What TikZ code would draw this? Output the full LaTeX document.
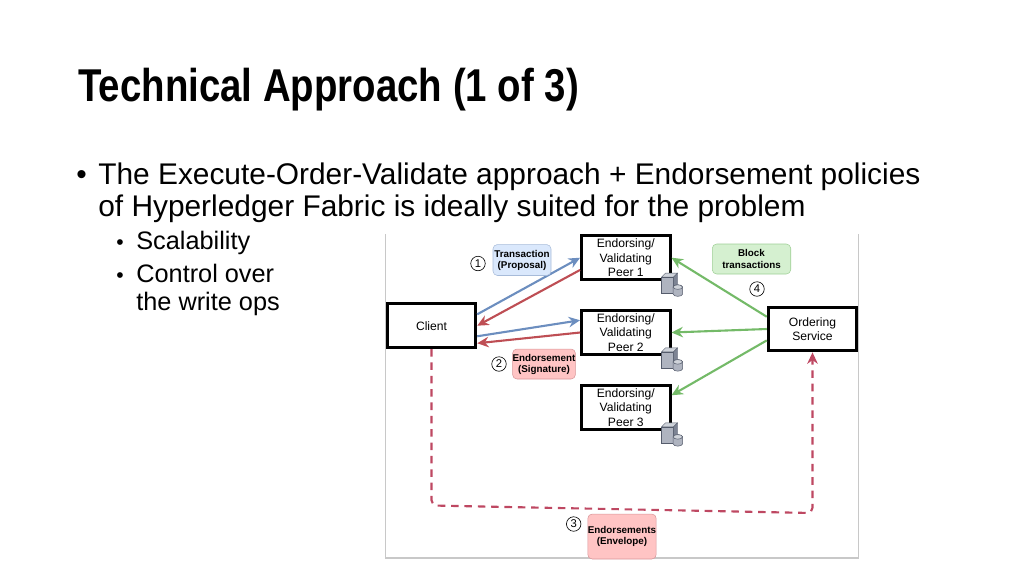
\documentclass[tikz,border=0pt]{standalone}
\usepackage{fontspec}
\setmainfont{Liberation Sans}
\newfontfamily\titlefont[FakeStretch=0.834]{Liberation Sans}
\usepackage{xcolor}
\definecolor{colorBlue}{RGB}{108, 142, 191}
\definecolor{colorRed}{RGB}{190, 78, 84}
\definecolor{colorDash}{RGB}{190, 72, 98}
\definecolor{colorGreen}{RGB}{116, 186, 104}
\definecolor{colorFrame}{RGB}{200, 200, 200}
\definecolor{fillBlue}{RGB}{218, 232, 252}
\definecolor{fillRed}{RGB}{255, 196, 196}
\definecolor{fillGreen}{RGB}{213, 240, 208}
\definecolor{serverTop}{RGB}{207, 211, 218}
\definecolor{serverFront}{RGB}{175, 180, 192}
\definecolor{serverSide}{RGB}{125, 132, 148}
\definecolor{serverLine}{RGB}{85, 92, 108}
\usetikzlibrary{arrows.meta}
\tikzset{
	box/.style={draw, line width=1.7pt, fill=white, minimum width=1.77cm, minimum height=.875cm, inner sep=0pt, align=center, font=\fontsize{6.9}{8.1}\selectfont},
	badge/.style={rounded corners=2.5pt, line width=.3pt, inner sep=0pt, align=center, font=\fontsize{5.6}{6.3}\selectfont\bfseries},
	num/.style={draw, circle, line width=.35pt, minimum size=.29cm, inner sep=0pt, font=\fontsize{6.4}{7}\selectfont},
	flow/.style={line width=1.2pt, -{Stealth[length=6.5pt, width=6pt]}},
	bodytext/.style={anchor=base west, inner sep=0pt, font=\fontsize{17}{20}\selectfont},
	subtext/.style={anchor=base west, inner sep=0pt, font=\fontsize{14.4}{16}\selectfont},
	serverpic/.pic={
		\draw[line width=.2pt, draw=serverLine, fill=serverTop] (-10,-4) -- (-6,-8) -- (6,-8) -- (2,-4) -- cycle;
		\draw[line width=.2pt, draw=serverLine, fill=serverFront] (-10,-4) rectangle (2,12);
		\draw[line width=.2pt, draw=serverLine, fill=serverSide] (2,-4) -- (6,-8) -- (6,8) -- (2,12) -- cycle;
		\draw[line width=.3pt, draw=serverLine, fill=serverFront] (1.5,6) -- (1.5,13) .. controls (2,16) and (10.5,16) .. (11,13) -- (11,6) .. controls (10.5,3) and (2,3) .. (1.5,6) -- cycle;
		\draw[line width=.3pt, draw=serverLine, fill=serverTop] (1.5,6) .. controls (2,9) and (10.5,9) .. (11,6) .. controls (10.5,3) and (2,3) .. (1.5,6) -- cycle;
	}
}
\begin{document}
\begin{tikzpicture}[x=0.02cm, y=-0.02cm]
	\useasboundingbox (0,0) rectangle (1024,576);
	% slide text
	\node[anchor=base west, inner sep=0pt, font=\titlefont\fontsize{26.2}{30}\selectfont\bfseries] (title) at (78,101) {Technical Approach (1 of 3)};
	\node[bodytext] (bulletmain) at (76,184) {•};
	\node[bodytext] (lineone) at (98,184) {The Execute-Order-Validate approach + Endorsement policies};
	\node[bodytext] (linetwo) at (98,216) {of Hyperledger Fabric is ideally suited for the problem};
	\node[subtext, font=\fontsize{12}{14}\selectfont] (bulletone) at (116,249) {•};
	\node[subtext] (scalability) at (136,249) {Scalability};
	\node[subtext, font=\fontsize{12}{14}\selectfont] (bullettwo) at (116,282) {•};
	\node[subtext] (control) at (136,282) {Control over};
	\node[subtext] (writeops) at (136,310) {the write ops};

	% frame of the figure
	\draw[colorFrame, line width=.6pt] (385.5,234) -- (385.5,558) -- (858.5,558) -- (858.5,234);

	\node[box] (client) at (431.5,325.7) {Client};
	\node[box] (peerone) at (625.8,257.7) {Endorsing/\\Validating\\Peer 1};
	\node[box] (peertwo) at (625.8,332.5) {Endorsing/\\Validating\\Peer 2};
	\node[box] (peerthree) at (625.8,407.5) {Endorsing/\\Validating\\Peer 3};
	\node[box] (order) at (812.5,329) {Ordering\\Service};

	\pic at (peerone.south east) {serverpic};
	\pic at (peertwo.south east) {serverpic};
	\pic at (peerthree.south east) {serverpic};

	\draw[flow, colorBlue] (client.14.5) -- (peerone.180);
	\draw[flow, colorRed] (peerone.195) -- (client.0);
	\draw[flow, colorBlue] (client.-13) -- (peertwo.165);
	\draw[flow, colorRed] (peertwo.180) -- (client.-21);
	\draw[flow, colorGreen] (order.165) -- (peerone.0);
	\draw[flow, colorGreen] (order.180) -- (peertwo.0);
	\draw[flow, colorGreen] (order.194) -- (peerthree.15);

	\coordinate (dashleft) at (431.5,505.5);
	\coordinate (dashright) at (812.5,513);
	\draw[line width=1.2pt, colorDash, dash pattern=on 4.3pt off 3.3pt, rounded corners=3pt, -{Stealth[length=6.5pt, width=6pt]}] (client.south) -- (dashleft) -- (dashright) -- (order.south);

	\node[badge, draw=colorBlue!60, fill=fillBlue, minimum width=1.16cm, minimum height=.62cm] (transaction) at (522,260) {Transaction\\(Proposal)};
	\node[badge, draw=colorRed!60, fill=fillRed, minimum width=1.19cm, minimum height=.6cm] (endorsement) at (544,364) {Endorsement\\(Signature)};
	\node[badge, draw=colorGreen!70, fill=fillGreen, minimum width=1.57cm, minimum height=.6cm] (block) at (751.5,259) {Block\\transactions};
	\node[badge, draw=colorRed!60, fill=fillRed, minimum width=1.36cm, minimum height=.9cm] (envelope) at (622,536.5) {Endorsements\\(Envelope)};

	\node[num] (numone) at (478,263.5) {1};
	\node[num] (numtwo) at (499,364) {2};
	\node[num] (numthree) at (573.7,524) {3};
	\node[num] (numfour) at (757,289) {4};
\end{tikzpicture}
\end{document}
